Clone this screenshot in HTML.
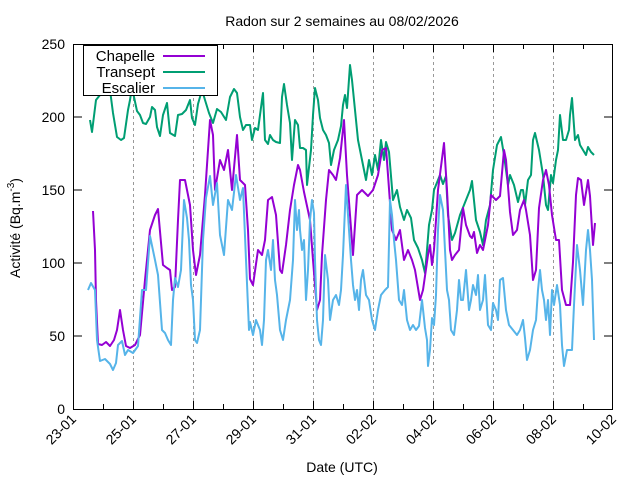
<!DOCTYPE html>
<html><head><meta charset="utf-8"><style>
body{margin:0;background:#fff}
svg{display:block;font-family:"Liberation Sans",sans-serif}
</style></head><body>
<svg width="640" height="480" viewBox="0 0 640 480" xmlns="http://www.w3.org/2000/svg">
<rect width="640" height="480" fill="#fff"/>
<g stroke="#999" stroke-dasharray="3,3" stroke-width="1">
<line x1="133.5" y1="44" x2="133.5" y2="409"/><line x1="193.5" y1="44" x2="193.5" y2="409"/>
<line x1="253.5" y1="44" x2="253.5" y2="409"/><line x1="313.5" y1="44" x2="313.5" y2="409"/>
<line x1="373.5" y1="44" x2="373.5" y2="409"/><line x1="433.5" y1="44" x2="433.5" y2="409"/>
<line x1="493.5" y1="44" x2="493.5" y2="409"/><line x1="553.5" y1="44" x2="553.5" y2="409"/>
</g>
<g stroke="#000" stroke-width="1">
<line x1="73.5" y1="336" x2="82" y2="336"/><line x1="73.5" y1="263" x2="82" y2="263"/>
<line x1="73.5" y1="190" x2="82" y2="190"/><line x1="73.5" y1="117" x2="82" y2="117"/>
<line x1="612.5" y1="336" x2="604" y2="336"/><line x1="612.5" y1="263" x2="604" y2="263"/>
<line x1="612.5" y1="190" x2="604" y2="190"/><line x1="612.5" y1="117" x2="604" y2="117"/>
</g>
<g stroke="#000" stroke-width="1">
<path d="M103.5 409v-5M103.5 44v5M133.5 409v-8M133.5 44v8M163.5 409v-5M163.5 44v5M193.5 409v-8M193.5 44v8M223.5 409v-5M223.5 44v5M253.5 409v-8M253.5 44v8M283.5 409v-5M283.5 44v5M313.5 409v-8M313.5 44v8M343.5 409v-5M343.5 44v5M373.5 409v-8M373.5 44v8M403.5 409v-5M403.5 44v5M433.5 409v-8M433.5 44v8M463.5 409v-5M463.5 44v5M493.5 409v-8M493.5 44v8M523.5 409v-5M523.5 44v5M553.5 409v-8M553.5 44v8M583.5 409v-5M583.5 44v5"/>
</g>
<g fill="none" stroke-width="2" stroke-linejoin="round">
<polyline stroke="#009e73" points="90,120 92,132 96,100 100,95 105,92 110,90 113,113 117,137 121,140 124,138 128,110 130,100 132,87 134,97 137,111 140,115 143,123 146,124 150,117 152,107 155,110 157,127 160,136 163,115 167,103 170,133 175,136 178,115 182,114 186,110 190,100 192,118 195,125 198,104 202,90 205,100 209,113 213,123 217,109 221,112 226,120 230,97 234,89 237,93 240,117 243,130 246,125 250,125 252,140 255,128 258,130 262,100 263,93 265,140 268,144 270,135 273,140 276,142 280,143 282,97 284,84 287,105 290,123 292,160 295,120 298,125 300,148 303,148 306,150 307,185 311,150 313,115 315,88 318,100 320,118 323,130 326,135 329,143 331,165 334,150 338,140 341,126 343,105 345,95 347,108 350,65 352,80 355,110 358,140 362,160 366,180 369,160 372,175 375,155 378,170 381,140 384,160 386,142 389,152 393,200 397,190 400,207 404,220 407,210 411,218 414,240 418,248 422,260 425,273 427,250 429,225 432,210 434,190 436,185 440,175 443,184 446,176 448,215 450,228 452,240 455,233 460,215 466,200 470,190 472,181 476,220 480,232 483,245 486,220 490,205 493,170 497,145 501,137 504,155 508,185 510,175 514,185 518,202 521,190 523,190 525,205 528,180 531,175 533,140 535,133 539,150 543,175 546,205 548,210 551,175 553,183 556,160 558,150 560,115 563,140 566,140 569,130 570,115 572,98 575,140 578,135 580,145 583,150 586,155 588,147 591,152 594,155"/>
<polyline stroke="#9400d3" points="93,211 95,250 96,300 98,344 102,345 106,342 110,346 114,340 117,330 120,310 123,330 126,346 130,348 135,345 140,335 145,280 150,230 155,215 158,209 163,265 167,268 170,270 172,290 175,287 178,220 180,180 185,180 190,205 193,250 196,275 200,255 205,195 210,120 213,135 215,190 220,160 224,170 228,150 232,190 237,135 240,180 245,185 248,230 250,279 253,285 258,250 262,255 265,240 268,200 272,197 276,215 280,270 282,273 286,245 290,210 294,185 298,165 300,170 304,192 310,220 313,260 317,310 320,300 322,255 326,200 329,170 333,175 336,180 340,158 344,120 347,175 350,215 353,255 357,195 362,190 368,196 373,190 378,175 382,150 386,148 388,175 392,230 396,240 400,230 404,260 408,250 412,260 415,270 420,300 423,290 428,255 430,245 432,265 434,250 438,190 444,143 447,190 450,250 452,260 455,255 459,250 463,208 466,225 470,236 472,238 474,232 477,253 480,245 483,250 488,225 491,195 496,200 500,196 504,150 506,160 510,212 513,235 517,230 520,210 524,200 526,210 530,235 533,280 536,270 539,208 543,180 546,170 549,185 552,215 556,240 559,240 562,290 566,305 570,305 573,262 576,195 578,178 581,180 584,205 588,180 590,196 593,245 595,223"/>
<polyline stroke="#56b4e9" points="88,290 91,283 95,290 97,340 100,361 105,359 110,364 113,370 116,363 118,345 122,341 125,355 128,350 133,353 138,346 142,290 146,290 150,236 155,260 158,275 162,330 165,333 168,340 171,345 173,300 175,278 178,287 181,270 184,200 187,218 189,240 191,285 193,300 195,340 197,343 200,330 203,240 206,198 210,176 213,205 217,183 220,235 224,255 228,200 232,210 236,175 240,200 243,188 246,260 249,330 250,322 253,335 256,320 260,330 262,345 264,320 266,260 268,250 271,270 273,240 275,280 277,295 280,330 283,340 286,320 290,300 293,260 295,200 297,230 299,210 300,230 302,250 304,240 306,300 308,270 310,220 312,200 314,213 315,260 317,320 319,340 321,345 323,320 325,255 328,280 330,320 333,300 336,295 339,305 341,290 343,255 346,185 349,230 351,260 353,285 355,300 357,290 359,310 361,280 363,270 366,295 369,300 372,320 375,330 378,310 381,295 385,290 388,287 390,200 392,215 394,240 396,260 399,300 402,305 404,290 407,320 410,330 413,325 416,330 419,326 422,300 425,328 427,340 428,366 430,350 432,318 434,325 436,295 438,230 440,195 443,210 445,250 447,290 449,300 451,330 454,335 457,310 459,280 461,300 463,300 466,270 469,310 471,300 473,285 476,295 478,275 480,310 483,300 485,275 488,325 491,330 493,303 496,310 498,320 500,280 503,278 506,310 509,325 513,330 517,335 520,330 523,320 525,338 527,360 530,350 533,330 536,320 538,290 540,270 542,290 544,300 546,320 548,300 550,335 552,290 554,305 557,285 560,305 562,345 564,366 567,350 570,350 572,350 574,305 577,245 580,270 583,305 586,250 588,230 590,250 592,280 594,340"/>
</g>
<rect x="73.5" y="44.5" width="539" height="365" fill="none" stroke="#000"/>
<rect x="83.5" y="45.5" width="134" height="50" fill="#fff" stroke="#000"/>
<g font-size="15" text-anchor="end" fill="#000">
<text x="155" y="61">Chapelle</text><text x="155" y="77">Transept</text><text x="155" y="93">Escalier</text>
</g>
<g stroke-width="2"><line x1="163" y1="56" x2="205" y2="56" stroke="#9400d3"/><line x1="163" y1="72" x2="205" y2="72" stroke="#009e73"/><line x1="163" y1="88" x2="205" y2="88" stroke="#56b4e9"/></g>
<g font-size="14" text-anchor="end">
<text x="65" y="414">0</text><text x="65" y="341">50</text><text x="65" y="268">100</text><text x="65" y="195">150</text><text x="65" y="122">200</text><text x="65" y="49">250</text>
</g>
<g font-size="14" text-anchor="end">
<text transform="translate(77,420) rotate(-45)">23-01</text>
<text transform="translate(137,420) rotate(-45)">25-01</text>
<text transform="translate(197,420) rotate(-45)">27-01</text>
<text transform="translate(257,420) rotate(-45)">29-01</text>
<text transform="translate(317,420) rotate(-45)">31-01</text>
<text transform="translate(377,420) rotate(-45)">02-02</text>
<text transform="translate(437,420) rotate(-45)">04-02</text>
<text transform="translate(497,420) rotate(-45)">06-02</text>
<text transform="translate(557,420) rotate(-45)">08-02</text>
<text transform="translate(617,420) rotate(-45)">10-02</text>
</g>
<text x="342" y="26" font-size="14" text-anchor="middle">Radon sur 2 semaines au 08/02/2026</text>
<text x="342" y="472" font-size="14" text-anchor="middle">Date (UTC)</text>
<text transform="translate(20,228) rotate(-90)" font-size="14" text-anchor="middle">Activité (Bq.m<tspan dy="-6" font-size="10">-3</tspan><tspan dy="6">)</tspan></text>
</svg>
</body></html>
